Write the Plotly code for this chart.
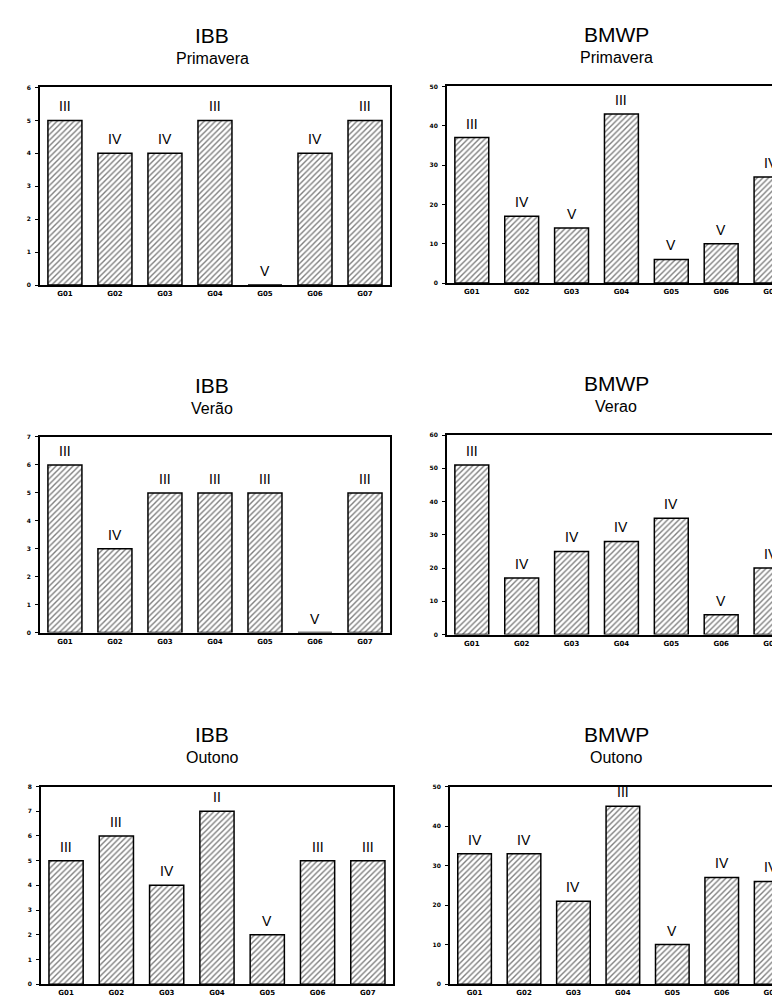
import plotly.graph_objects as go

categories = ["G01", "G02", "G03", "G04", "G05", "G06", "G07"]

ibb_primavera = [5, 4, 4, 5, 0, 4, 5]
ibb_primavera_cls = ["III", "IV", "IV", "III", "V", "IV", "III"]
bmwp_primavera = [37, 17, 14, 43, 6, 10, 27]
bmwp_primavera_cls = ["III", "IV", "V", "III", "V", "V", "IV"]

ibb_verao = [6, 3, 5, 5, 5, 0, 5]
ibb_verao_cls = ["III", "IV", "III", "III", "III", "V", "III"]
bmwp_verao = [51, 17, 25, 28, 35, 6, 20]
bmwp_verao_cls = ["III", "IV", "IV", "IV", "IV", "V", "IV"]

ibb_outono = [5, 6, 4, 7, 2, 5, 5]
ibb_outono_cls = ["III", "III", "IV", "II", "V", "III", "III"]
bmwp_outono = [33, 33, 21, 45, 10, 27, 26]
bmwp_outono_cls = ["IV", "IV", "IV", "III", "V", "IV", "IV"]

titles = ["IBB", "BMWP", "IBB", "BMWP", "IBB", "BMWP"]
subtitles = ["Primavera", "Primavera", "Verão", "Verao", "Outono", "Outono"]
y_max = [6, 50, 7, 60, 8, 50]
y_step = [1, 10, 1, 10, 1, 10]

W, H = 780, 998
panels = [
    (ibb_primavera, ibb_primavera_cls),
    (bmwp_primavera, bmwp_primavera_cls),
    (ibb_verao, ibb_verao_cls),
    (bmwp_verao, bmwp_verao_cls),
    (ibb_outono, ibb_outono_cls),
    (bmwp_outono, bmwp_outono_cls),
]
# pixel layout: (x0, x1, y_top, y_bottom)
boxes = [
    (32, 383, 76, 275), (440, 780, 75, 273),
    (32, 383, 428, 625), (440, 780, 426, 627),
    (33, 386, 780, 979), (443, 780, 780, 979),
]

fig = go.Figure()
layout = dict(
    width=W, height=H, margin=dict(l=0, r=0, t=0, b=0),
    paper_bgcolor="white", plot_bgcolor="white", showlegend=False,
    font=dict(family="Liberation Sans, Arial, sans-serif", color="black"),
)
annotations = []
for i, ((vals, cls), (x0, x1, yt, yb)) in enumerate(zip(panels, boxes)):
    n = i + 1
    xa = "x" if n == 1 else f"x{n}"
    ya = "y" if n == 1 else f"y{n}"
    fig.add_trace(go.Bar(
        x=categories, y=vals, xaxis=xa, yaxis=ya, width=0.68,
        marker=dict(color="white", line=dict(color="black", width=1.5),
                    pattern=dict(shape="/", fgcolor="black", bgcolor="white",
                                 size=4, solidity=0.35)),
    ))
    for c, v, t in zip(categories, vals, cls):
        annotations.append(dict(
            text=t, x=c, y=v, xref=xa, yref=ya, showarrow=False,
            xanchor="center", yanchor="bottom", yshift=4,
            font=dict(size=14, family="Liberation Sans, Arial", color="black"),
        ))
    right = (n % 2 == 0)
    xr = [-0.5, 6.3] if right else [-0.5, 6.5]
    layout["xaxis" if n == 1 else f"xaxis{n}"] = dict(
        domain=[x0 / W, x1 / W], range=xr, anchor=ya, type="category",
        showline=True, linecolor="black", linewidth=1.5, mirror=True,
        ticks="", showgrid=False, zeroline=False, ticklabelstandoff=1,
        tickfont=dict(size=7, family="DejaVu Sans", weight="bold"),
    )
    layout["yaxis" if n == 1 else f"yaxis{n}"] = dict(
        domain=[1 - yb / H, 1 - yt / H], range=[0, y_max[i]], dtick=y_step[i],
        anchor=xa, showline=True, linecolor="black", linewidth=1.5, mirror=True,
        ticks="outside", ticklen=3, tickwidth=1.2, tickcolor="black",
        showgrid=False, zeroline=False, ticklabelstandoff=3,
        tickfont=dict(size=6, family="DejaVu Sans", weight="bold"),
    )
    cx = (205 if not right else 610) / W
    annotations.append(dict(text=titles[i], x=cx, y=1 - (yt - 52) / H, xref="paper", yref="paper",
                            showarrow=False, font=dict(size=21), xanchor="center", yanchor="middle"))
    annotations.append(dict(text=subtitles[i], x=cx, y=1 - (yt - 29) / H, xref="paper", yref="paper",
                            showarrow=False, font=dict(size=16), xanchor="center", yanchor="middle"))

layout["annotations"] = annotations
fig.update_layout(**layout)
fig.write_html("out.html")
